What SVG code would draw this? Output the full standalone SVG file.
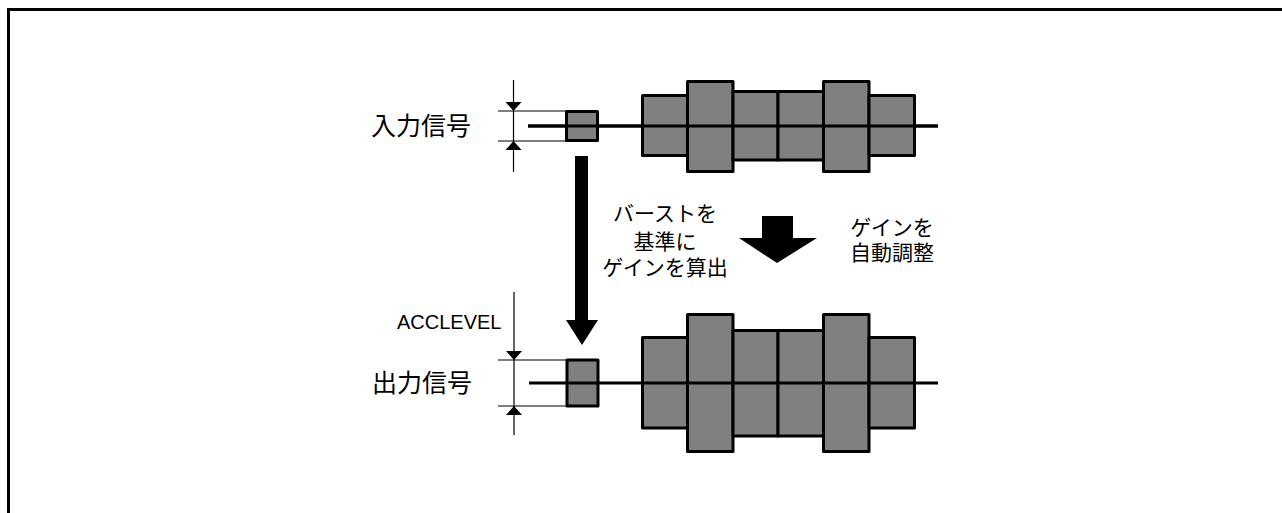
<svg xmlns="http://www.w3.org/2000/svg" width="1282" height="513" viewBox="0 0 1282 513">
<style>
.jp{font-family:"Noto Sans CJK JP","Noto Sans",sans-serif;fill:#000}
.en{font-family:"Liberation Sans",Arial,sans-serif;fill:#000}
.box{fill:#808080;stroke:#000;stroke-width:3;stroke-linejoin:round}
.base{stroke:#000;stroke-width:3;fill:none}
.dim{stroke:#000;stroke-width:1.2;fill:none}
.tip{fill:#000}
</style>
<defs>
<polygon id="tdown" class="tip" points="-8,-9 8,-9 0,0"/>
<polygon id="tup" class="tip" points="-8,9 8,9 0,0"/>
</defs>
<rect width="1282" height="513" fill="#fff"/>
<path d="M8.5,513 V9.5 H1282" fill="none" stroke="#000" stroke-width="3"/>

<g id="label-input"><text class="jp" x="371" y="135" font-size="25">入力信号</text></g>
<g id="label-output"><text class="jp" x="372" y="392" font-size="25">出力信号</text></g>
<g id="label-acclevel"><text class="en" x="397" y="329" font-size="20">ACCLEVEL</text></g>
<g id="label-burst"><text class="jp" font-size="21" text-anchor="middle"><tspan x="665" y="221">バーストを</tspan><tspan x="665" y="249">基準に</tspan><tspan x="665" y="275">ゲインを算出</tspan></text></g>
<g id="label-auto"><text class="jp" font-size="21" text-anchor="middle"><tspan x="892" y="235">ゲインを</tspan><tspan x="892" y="260">自動調整</tspan></text></g>

<g id="input-signal">
<line class="base" x1="528" y1="126" x2="938" y2="126"/>
<rect class="box" x="566.5" y="111.5" width="31" height="29"/>
<rect class="box" x="642.5" y="95.5" width="45" height="60"/>
<rect class="box" x="687.5" y="81.5" width="45.5" height="90"/>
<rect class="box" x="733" y="91.5" width="45" height="68.5"/>
<rect class="box" x="778" y="91.5" width="45.5" height="68.5"/>
<rect class="box" x="823.5" y="81.5" width="45.5" height="90"/>
<rect class="box" x="869" y="95.5" width="45.5" height="60"/>
<line class="base" x1="528" y1="126" x2="938" y2="126"/>
</g>

<g id="output-signal">
<rect class="box" x="567" y="360" width="31" height="46"/>
<rect class="box" x="642.5" y="337.5" width="45" height="90.5"/>
<rect class="box" x="687.5" y="314.5" width="45.5" height="137"/>
<rect class="box" x="733" y="330.5" width="45" height="105.5"/>
<rect class="box" x="778" y="330.5" width="45.5" height="105.5"/>
<rect class="box" x="823.5" y="314.5" width="45.5" height="137"/>
<rect class="box" x="869" y="337.5" width="45.5" height="90.5"/>
<line class="base" x1="529" y1="383" x2="938" y2="383"/>
</g>

<g id="dimension-input">
<line class="dim" x1="498" y1="111" x2="566" y2="111"/>
<line class="dim" x1="498" y1="141" x2="566" y2="141"/>
<line class="dim" x1="513.5" y1="80" x2="513.5" y2="172"/>
<use href="#tdown" x="513.5" y="111"/>
<use href="#tup" x="513.5" y="141"/>
</g>

<g id="dimension-output">
<line class="dim" x1="498" y1="360" x2="567" y2="360"/>
<line class="dim" x1="498" y1="406" x2="567" y2="406"/>
<line class="dim" x1="514" y1="292" x2="514" y2="435"/>
<use href="#tdown" x="514" y="360"/>
<use href="#tup" x="514" y="406"/>
</g>

<g id="connectors">
<polygon class="tip" points="575,156 588,156 588,320 598,320 582,345 566,320 575,320"/>
<polygon class="tip" points="762,216 793,216 793,238 817,238 777,263 739,238 762,238"/>
</g>
</svg>
